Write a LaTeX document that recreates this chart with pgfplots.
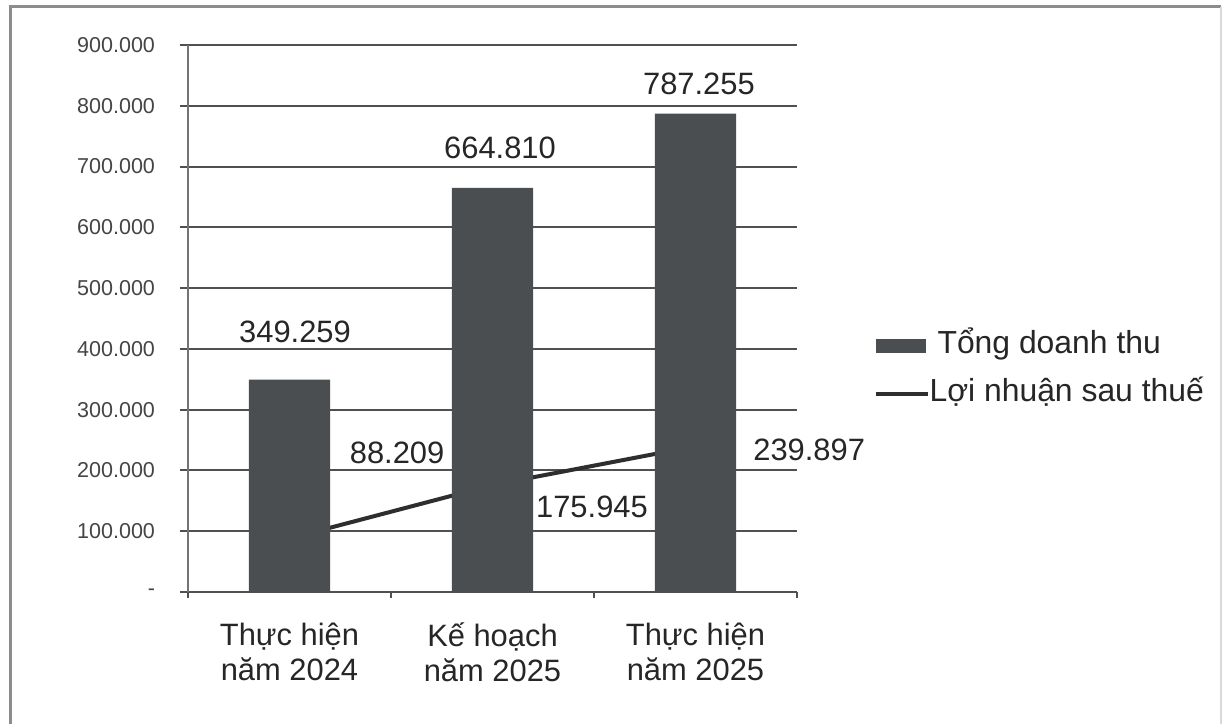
\documentclass[border=0pt]{standalone}
\usepackage{fontspec}
\setmainfont{Liberation Sans}
\usepackage{pgfplots}
\pgfplotsset{compat=1.18}
\definecolor{barcol}{HTML}{4A4E50}
\definecolor{gridcol}{HTML}{505050}
\definecolor{txt}{HTML}{262626}
\definecolor{ticktxt}{HTML}{454545}
\begin{document}
\begin{tikzpicture}
\useasboundingbox (0,0) rectangle (612.5bp,362bp);
\fill[white] (0,0) rectangle (612.5bp,362bp);
\draw[black!45, line width=1.5bp] (5bp,-5bp) -- (5bp,358.5bp) -- (610.5bp,358.5bp);
\draw[black!15, line width=1bp] (610.5bp,358.5bp) -- (610.5bp,-5bp);
\begin{axis}[
  at={(94bp,66bp)}, anchor=south west,
  scale only axis, width=304.5bp, height=273.5bp,
  xmin=-0.5, xmax=2.5, ymin=0, ymax=900,
  axis x line=bottom, axis y line=left,
  axis line style={-},
  x axis line style={gridcol, line width=1bp},
  y axis line style={black!55, line width=0.8bp},
  clip=false,
  ymajorgrids,
  grid style={gridcol, line width=1bp},
  ytick={0,100,200,300,400,500,600,700,800,900},
  yticklabels={-\hspace{7bp},100.000,200.000,300.000,400.000,500.000,600.000,700.000,800.000,900.000},
  ytick style={gridcol, line width=1bp},
  major tick length=4bp,
  tick align=outside,
  yticklabel style={font=\fontsize{10.8}{12}\selectfont, text=ticktxt, xshift=-9bp},
  xtick={0,1,2},
  xticklabels={{Thực hiện\\năm 2024},{Kế hoạch\\năm 2025},{Thực hiện\\năm 2025}},
  xtick style={draw=none},
  xticklabel style={align=center, font=\fontsize{15.5}{17.5}\selectfont, text=txt, yshift=-8bp},
  extra x ticks={-0.5,0.5,1.5,2.5},
  extra x tick labels={},
  extra x tick style={grid=none, xtick style={draw=gridcol, line width=1bp}, major tick length=3bp, tick align=outside},
  reverse legend,
  legend style={at={(1.125,0.406)}, anchor=west, draw=none, fill=none, inner sep=0pt,
    font=\fontsize{16}{18}\selectfont, text=txt,
    nodes={inner sep=0pt, text height=11.5bp, text depth=3.5bp},
    row sep=9bp,
    /tikz/every even column/.append style={column sep=4bp}},
  legend cell align=left,
]
\addplot[line width=2bp, color=black!82,
  legend image code/.code={\draw[line width=2bp, black!82] (0bp,0bp) -- (26bp,0bp);}]
  coordinates {(0,88.209) (1,175.945) (2,239.897)};
\addlegendentry{Lợi nhuận sau thuế}
\addplot[ybar, bar width=0.4, fill=barcol, draw=none,
  legend image code/.code={\fill[barcol] (0bp,-3.5bp) rectangle (25bp,3.5bp);}]
  coordinates {(0,349.259) (1,664.810) (2,787.255)};
\addlegendentry{\hspace{4bp}Tổng doanh thu}
\begin{scope}[font=\fontsize{15.5}{18}\selectfont, text=txt]
\node at (axis cs:0.027,427.8) {349.259};
\node at (axis cs:1.037,730.5) {664.810};
\node at (axis cs:2.017,835.8) {787.255};
\node at (axis cs:0.53,228.7) {88.209};
\node at (axis cs:1.49,139.8) {175.945};
\node at (axis cs:2.56,233.6) {239.897};
\end{scope}
\end{axis}
\end{tikzpicture}
\end{document}
